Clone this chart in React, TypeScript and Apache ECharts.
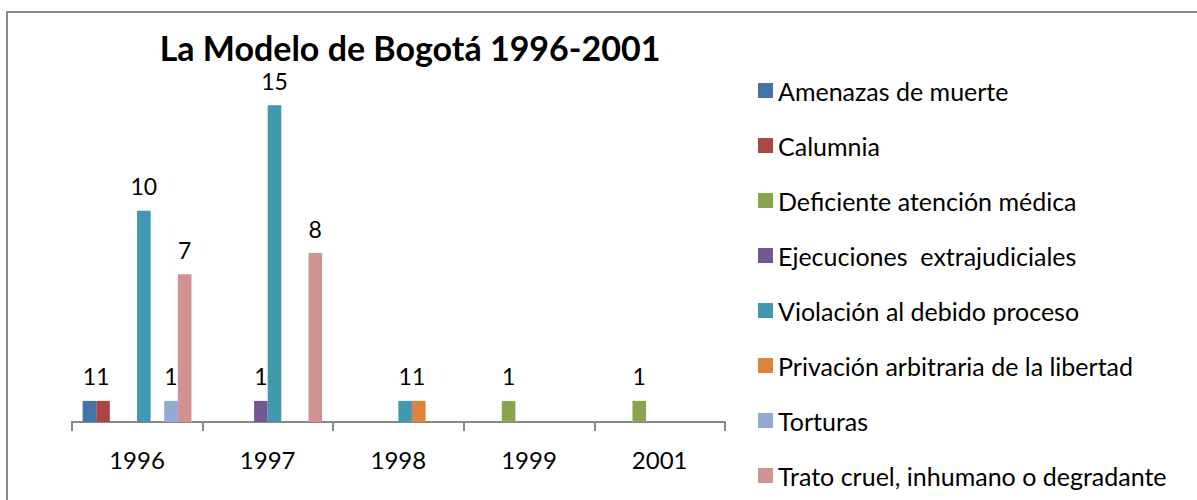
import React, { useEffect, useRef } from "react";
import * as echarts from "echarts";

const years = ["1996", "1997", "1998", "1999", "2001"];
const seriesNames = [
  "Amenazas de muerte",
  "Calumnia",
  "Deficiente atención médica",
  "Ejecuciones  extrajudiciales",
  "Violación al debido proceso",
  "Privación arbitraria de la libertad",
  "Torturas",
  "Trato cruel, inhumano o degradante",
];
const amenazas = [1, null, null, null, null];
const calumnia = [1, null, null, null, null];
const deficiente = [null, null, null, 1, 1];
const ejecuciones = [null, 1, null, null, null];
const violacion = [10, 15, 1, null, null];
const privacion = [null, null, 1, null, null];
const torturas = [1, null, null, null, null];
const trato = [7, 8, null, null, null];
const seriesValues = [amenazas, calumnia, deficiente, ejecuciones, violacion, privacion, torturas, trato];
const colors = ["#4572A7", "#AA4643", "#89A54E", "#71588F", "#4198AF", "#DB843D", "#93A9CF", "#D19392"];

const FONT = "Lato, 'Open Sans', sans-serif";

export default function App() {
  const ref = useRef<HTMLDivElement>(null);
  useEffect(() => {
    if (!ref.current) return;
    const chart = echarts.init(ref.current, undefined, { renderer: "svg" });
    chart.setOption({
      animation: false,
      color: colors,
      title: {
        text: "La Modelo de Bogotá 1996-2001",
        left: 405,
        textAlign: "center",
        top: 25,
        textStyle: { fontFamily: FONT, fontSize: 34, fontWeight: "bold", color: "#000" },
      },
      legend: {
        orient: "vertical",
        left: 758,
        top: 78,
        bottom: 0,
        padding: 0,
        itemWidth: 15,
        itemHeight: 15,
        itemGap: 30,
        icon: "rect",
        data: seriesNames,
        textStyle: { fontFamily: FONT, fontSize: 25, color: "#000", lineHeight: 24 },
      },
      grid: { left: 71.7, right: 472, top: 84, bottom: 78 },
      xAxis: {
        type: "category",
        data: years,
        axisLine: { lineStyle: { color: "#888", width: 2 } },
        axisTick: { show: true, length: 9, lineStyle: { color: "#888", width: 2 } },
        axisLabel: { fontFamily: FONT, fontSize: 24, color: "#000", margin: 25 },
      },
      yAxis: {
        type: "value",
        min: 0,
        max: 16,
        show: false,
        splitLine: { show: false },
      },
      series: seriesNames.map((name, i) => ({
        name,
        type: "bar",
        data: seriesValues[i],
        barWidth: 13.6,
        barGap: "0%",
        label: {
          show: true,
          position: "top",
          distance: 13,
          fontFamily: FONT,
          fontSize: 23,
          color: "#000",
        },
      })),
      graphic: [
        { type: "line", shape: { x1: 7, y1: 12, x2: 7, y2: 500 }, style: { stroke: "#888", lineWidth: 2 } },
        { type: "line", shape: { x1: 6, y1: 12, x2: 1197, y2: 12 }, style: { stroke: "#888", lineWidth: 2 } },
      ],
    });
    return () => chart.dispose();
  }, []);
  return (
    <div style={{ position: "fixed", left: 0, top: 0, width: 1197, height: 500, background: "#fff" }}>
      <div ref={ref} style={{ width: 1197, height: 500 }} />
    </div>
  );
}
